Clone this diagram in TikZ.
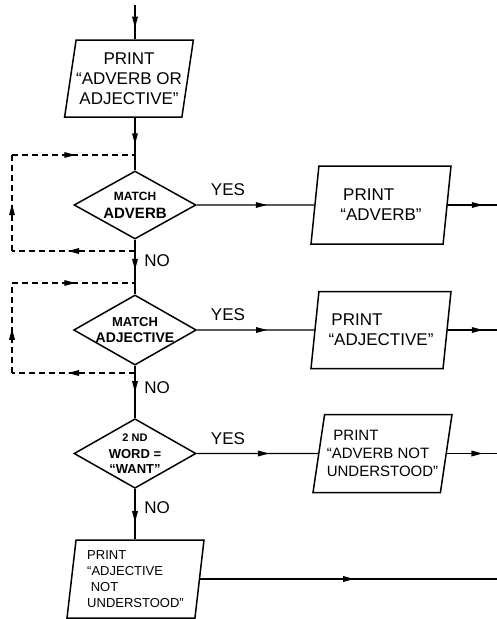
\documentclass[tikz,border=0pt]{standalone}
\usepackage{fontspec}
\setsansfont{Liberation Sans}
\usetikzlibrary{shapes.geometric,decorations.markings}
\newcommand{\fs}[2]{\fontsize{#1}{#2}\selectfont}
\tikzset{
  pbox/.style={draw,line width=1.5pt,trapezium,trapezium left angle=76,
    trapezium right angle=104,trapezium stretches body,minimum width=140pt,
    minimum height=78pt,inner sep=0pt,align=left,font=\sffamily\fs{17}{20}},
  dbox/.style={draw,line width=1.5pt,diamond,aspect=1.75,minimum width=122pt,
    minimum height=68pt,inner sep=0pt,align=center,font=\sffamily\bfseries\fs{12}{#1}},
  flow/.style={line width=1.4pt},
  loopline/.style={line width=1.4pt,dash pattern=on 6pt off 4pt},
  midarrow/.style={postaction={decorate},decoration={markings,
    mark=at position #1 with {\fill (5.5pt,0pt) -- (-5.5pt,3pt) -- (-5.5pt,-3pt) -- cycle;}}},
  lbl/.style={font=\sffamily\fs{17}{20},inner sep=0pt}
}
\begin{document}
\begin{tikzpicture}[x=1pt,y=-1pt]
    \useasboundingbox (0,0) rectangle (497,619);

    \node (p1) at (129,78.5) [pbox,minimum width=127pt,minimum height=77pt,
      trapezium left angle=77.5,trapezium right angle=102.5,align=center]
      {PRINT\\“ADVERB OR\\ADJECTIVE”};

    \node (d1) at (135,205) [dbox=18pt] {\fs{12}{18}MATCH\\\fs{15}{18}ADVERB};
    \node (p2) at (381,205) [pbox] {\,PRINT\\“ADVERB”};

    \node (d2) at (135,330) [dbox=16pt,minimum height=66pt] {\fs{13}{16}MATCH\\\fs{14}{16}ADJECTIVE};
    \node (p3) at (381,330) [pbox,minimum height=77pt] {\,PRINT\\“ADJECTIVE”};

    \node (d3) at (135,453.5) [dbox=17pt,minimum height=69pt] {\fs{11}{17}2 ND\\\fs{13}{17}WORD =\\[-2pt]\fs{13}{17}“WANT”};
    \node (p4) at (382.5,453.5) [pbox,minimum width=139pt,font=\sffamily\fs{15}{18}]
      {\;\,PRINT\\“ADVERB NOT\\UNDERSTOOD”};

    \node (p5) at (135.5,579) [pbox,minimum width=137pt,trapezium left angle=81,
      trapezium right angle=99,font=\sffamily\fs{13}{16}]
      {PRINT\\“ADJECTIVE\\\ NOT\\UNDERSTOOD”};

    \node (yes1) at (228,190) [lbl] {YES};
    \node (yes2) at (228,315) [lbl] {YES};
    \node (yes3) at (228,439) [lbl] {YES};
    \node (no1) at (157,261) [lbl] {NO};
    \node (no2) at (157,388) [lbl] {NO};
    \node (no3) at (157,508) [lbl] {NO};

    \coordinate (start) at (135,5);
    \coordinate (rim) at (497,0);
    \draw[flow,midarrow=0.5] (start) -- (start |- p1.north);
    \draw[flow,midarrow=0.4] (d1.north |- p1.south) -- (d1.north);
    \draw[flow,midarrow=0.45] (d1.south) -- (d2.north);
    \draw[flow,midarrow=0.4] (d2.south) -- (d3.north);
    \draw[flow,midarrow=0.55] (d3.south) -- (d3.south |- p5.north);

    \draw[flow,midarrow=0.55] (d1.east) -- (p2.west);
    \draw[flow,midarrow=0.55] (d2.east) -- (p3.west);
    \draw[flow,midarrow=0.55] (d3.east) -- (p4.west);
    \draw[flow,midarrow=0.6] (p2.east) -- (p2.east -| rim);
    \draw[flow,midarrow=0.6] (p3.east) -- (p3.east -| rim);
    \draw[flow,midarrow=0.6] (p4.east) -- (p4.east -| rim);
    \draw[flow,midarrow=0.5] (p5.east) -- (p5.east -| rim);

    % dashed loops back over the tests
    \coordinate (a1) at (135,155); \coordinate (b1) at (12,155);
    \coordinate (c1) at (12,251);  \coordinate (e1) at (135,251);
    \coordinate (a2) at (135,283); \coordinate (b2) at (12,283);
    \coordinate (c2) at (12,373);  \coordinate (e2) at (135,373);
    \foreach \i in {1,2} {
      \draw[loopline,midarrow=0.5] (e\i) -- (c\i);
      \draw[loopline,midarrow=0.43] (c\i) -- (b\i);
      \draw[loopline,midarrow=0.47] (b\i) -- (a\i);
    }
\end{tikzpicture}
\end{document}
